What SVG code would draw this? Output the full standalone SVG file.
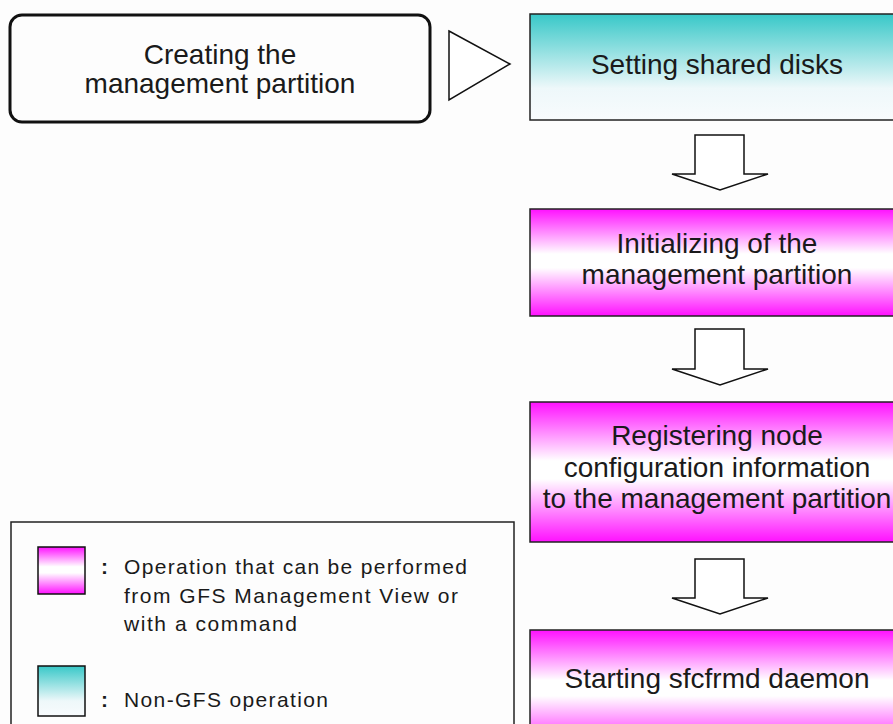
<svg xmlns="http://www.w3.org/2000/svg" width="893" height="724" viewBox="0 0 893 724">
<defs>
<linearGradient id="teal" x1="0" y1="0" x2="0" y2="1">
<stop offset="0" stop-color="#38c8c8"/>
<stop offset="0.7" stop-color="#eef8fa"/>
<stop offset="1" stop-color="#f8fbfd"/>
</linearGradient>
<linearGradient id="mag" x1="0" y1="0" x2="0" y2="1">
<stop offset="0" stop-color="#ff10ff"/>
<stop offset="0.42" stop-color="#ffffff"/>
<stop offset="0.55" stop-color="#ffffff"/>
<stop offset="1" stop-color="#ff10ff"/>
</linearGradient>
</defs>
<style>
.t{font-family:"Liberation Sans",Arial,sans-serif;font-size:28px;fill:#1a1a1a;text-anchor:middle}
.l{font-family:"Liberation Sans",Arial,sans-serif;font-size:21px;fill:#1a1a1a}
.box{stroke:#222;stroke-width:1.5}
.arr{fill:#fff;stroke:#111;stroke-width:1.5;stroke-linejoin:miter}
</style>
<rect width="893" height="724" fill="#fdfdfd"/>
<g id="n0">
<rect x="10" y="15" width="420" height="107" rx="12" fill="#fdfdfd" stroke="#111" stroke-width="3"/>
<text class="t" x="220" y="64">Creating the</text>
<text class="t" x="220" y="93">management partition</text>
</g>
<g id="n1">
<rect x="530" y="14" width="366" height="106" fill="url(#teal)" class="box"/>
<text class="t" x="717" y="74">Setting shared disks</text>
</g>
<g id="n2">
<rect x="530" y="209" width="366" height="107" fill="url(#mag)" class="box"/>
<text class="t" x="717" y="253">Initializing of the</text>
<text class="t" x="717" y="284">management partition</text>
</g>
<g id="n3">
<rect x="530" y="402" width="366" height="140" fill="url(#mag)" class="box"/>
<text class="t" x="717" y="445">Registering node</text>
<text class="t" x="717" y="477">configuration information</text>
<text class="t" x="717" y="508">to the management partition</text>
</g>
<g id="n4">
<rect x="530" y="630" width="366" height="120" fill="url(#mag)" class="box"/>
<text class="t" x="717" y="688">Starting sfcfrmd daemon</text>
</g>
<g id="connectors">
<polygon class="arr" points="449,31 510,64 449,100"/>
<polygon class="arr" points="695,135 744,135 744,174 768,174 720,190 672,174 695,174"/>
<polygon class="arr" points="695,329 744,329 744,369 768,369 720,385 672,369 695,369"/>
<polygon class="arr" points="695,559 744,559 744,598 768,598 720,614 672,598 695,598"/>
</g>
<g id="legend">
<rect x="11" y="522" width="503" height="220" fill="#fdfdfd" stroke="#222" stroke-width="1.5"/>
<rect x="38" y="547" width="47" height="47" fill="url(#mag)" stroke="#111" stroke-width="1.5"/>
<rect x="38" y="666" width="47" height="50" fill="url(#teal)" stroke="#111" stroke-width="1.5"/>
<text class="l" x="101" y="574" font-weight="bold">:</text>
<text class="l" x="124" y="574" textLength="343" lengthAdjust="spacing">Operation that can be performed</text>
<text class="l" x="124" y="603" textLength="334" lengthAdjust="spacing">from GFS Management View or</text>
<text class="l" x="124" y="631" textLength="173" lengthAdjust="spacing">with a command</text>
<text class="l" x="101" y="707" font-weight="bold">:</text>
<text class="l" x="124" y="707" textLength="204" lengthAdjust="spacing">Non-GFS operation</text>
</g>
</svg>
